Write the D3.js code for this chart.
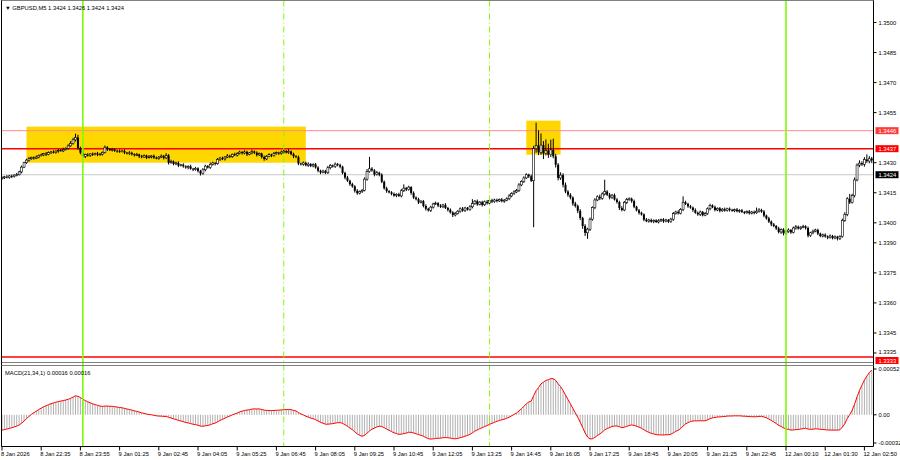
<!DOCTYPE html>
<html><head><meta charset="utf-8">
<script src="https://cdn.jsdelivr.net/npm/d3@7"></script>
<style>
body{margin:0;background:#fff}
svg{display:block}
text{font-family:"Liberation Sans",Arial,sans-serif}
</style>
</head><body><svg id="c" width="900" height="460"></svg>
<script>
// ---------- DATA ----------
const symbol = "GBPUSD,M5";
const headerQuote = ["1.3424", "1.3426", "1.3424", "1.3424"];
const basePrice = 1.3400;           // closes are given in pips above this
const firstOpen = 22.0;
const closePips = [
 22.5,23.0,22.6,23.4,23.1,23.8,24.0,25.4,27.8,30.0,31.3,32.0,32.6,32.2,32.8,33.6,
 33.9,34.5,34.1,35.0,35.4,35.1,35.8,36.2,35.9,36.6,37.2,38.4,39.6,41.4,42.6,37.4,
 35.0,33.2,34.0,33.6,34.4,34.0,34.5,34.1,34.3,35.2,37.6,36.8,36.3,36.6,36.0,35.8,
 35.5,35.9,35.0,34.6,34.9,34.2,33.8,34.1,33.2,32.8,33.5,32.6,32.9,33.4,32.5,32.2,
 32.8,33.3,32.4,33.6,30.0,30.6,29.4,29.9,28.6,29.0,28.2,27.6,28.1,27.0,26.6,27.2,
 25.8,24.6,26.5,28.3,27.6,29.2,29.9,29.5,31.6,32.3,31.9,32.8,33.4,33.0,34.2,33.8,
 34.6,35.3,34.8,35.4,34.2,34.9,35.6,35.0,33.9,34.5,32.8,31.9,33.2,34.0,33.6,34.5,
 35.0,34.6,35.3,35.8,35.1,35.6,34.3,33.2,32.8,29.6,29.2,29.9,28.7,29.3,28.4,29.1,
 27.6,26.0,25.2,25.8,25.0,27.5,28.6,28.1,29.3,28.8,28.0,24.9,22.6,21.0,19.3,18.2,
 16.0,14.8,15.6,16.2,21.8,25.6,27.0,26.2,24.1,25.0,24.0,20.5,17.2,15.8,15.2,14.4,
 13.6,14.2,13.4,16.0,17.3,16.6,17.8,14.9,12.6,11.8,10.2,10.8,8.4,7.0,6.2,7.8,
 9.4,9.8,8.6,8.0,8.9,7.4,6.5,5.2,3.9,4.6,5.8,7.0,6.1,7.4,6.6,8.0,
 9.6,10.8,9.2,10.3,9.0,10.5,9.8,11.2,10.6,11.4,10.9,11.6,10.8,11.3,12.0,13.4,
 14.6,15.4,16.2,18.9,20.6,22.4,24.0,23.2,21.0,37.0,38.5,35.2,38.8,34.6,36.0,34.0,
 36.4,33.2,29.0,22.4,23.8,19.0,15.6,14.0,12.6,9.6,8.4,6.0,2.4,-1.6,-5.0,-3.2,
 1.8,7.6,11.4,13.0,12.2,14.4,15.6,14.0,12.6,13.8,11.6,10.4,7.4,6.4,10.2,11.6,
 12.0,10.8,8.0,6.2,5.0,4.2,1.6,0.8,1.4,0.6,1.2,0.4,1.0,1.6,0.8,1.4,
 0.6,1.8,4.6,5.4,4.8,6.6,10.2,9.4,8.2,7.6,6.4,5.0,4.2,5.4,3.8,4.6,
 7.0,8.6,7.8,6.4,7.2,6.0,6.8,6.2,7.0,6.4,6.0,6.6,5.8,6.2,5.4,5.0,
 5.6,4.8,5.4,5.0,5.8,6.4,5.6,3.6,2.2,0.6,-0.8,-1.6,-2.8,-4.6,-3.4,-5.2,
 -4.4,-3.6,-4.8,-2.6,-2.0,-2.8,-2.2,-1.8,-2.6,-6.4,-5.0,-4.2,-3.6,-5.4,-6.6,-6.0,
 -6.8,-7.4,-6.6,-7.6,-7.0,-7.8,-6.8,1.2,4.2,12.0,10.2,13.6,21.4,28.8,29.8,29.2,31.6,30.8,32.0,31.2
];
const upWick = [
 0.6,0.4,0.8,0.5,0.7,0.4,0.9,0.6,0.8,0.5,0.7,0.9,0.4,0.6,0.8,0.5,
 0.7,0.4,0.9,0.6,0.5,0.8,0.4,0.7,0.6,0.9,0.5,0.8,1.2,1.0,1.9,1.4,
 0.6,1.2,0.5,0.8,0.4,0.7,0.5,0.9,0.6,0.4,1.0,0.7,0.5,0.8,0.6,0.4,
 0.8,0.5,0.7,0.4,0.9,0.6,0.5,0.8,0.4,0.7,0.6,0.5,0.9,0.4,0.7,0.6,
 0.5,0.8,0.6,1.2,0.7,0.9,0.5,0.6,0.8,0.4,0.7,0.5,0.6,0.9,0.4,0.7,
 0.5,0.6,0.8,0.7,0.5,0.9,0.6,0.4,0.8,0.6,0.7,0.5,0.9,0.6,0.4,0.8,
 0.6,0.7,0.5,0.8,0.6,0.4,0.9,0.5,0.7,0.6,0.5,0.8,0.6,0.7,0.5,0.9,
 0.6,0.5,0.8,0.7,0.6,1.2,0.5,0.7,0.6,0.8,0.5,0.7,0.6,0.9,0.5,0.6,
 0.8,0.6,0.5,0.7,0.6,0.9,0.7,0.5,0.8,0.6,0.7,0.5,0.6,0.8,0.5,0.7,
 0.6,0.8,0.5,0.7,0.9,1.2,5.9,0.8,0.6,0.9,0.5,0.7,0.6,0.8,0.5,0.6,
 0.7,0.5,0.8,0.9,1.9,0.6,0.7,0.5,0.8,0.6,0.7,0.5,0.6,0.8,0.5,0.7,
 0.6,0.8,0.5,0.7,0.6,0.9,0.5,0.7,0.6,0.8,0.5,0.7,0.9,0.6,0.5,0.8,
 2.2,0.6,0.8,0.5,0.7,0.6,0.9,0.5,0.8,0.6,0.7,0.5,0.8,0.6,0.7,0.9,
 0.6,0.8,0.7,0.9,0.6,0.8,0.7,0.5,0.9,1.4,11.5,7.7,5.8,2.0,5.6,3.5,
 5.1,5.6,1.2,0.8,1.4,0.9,1.1,0.7,0.8,0.6,0.9,0.7,0.8,0.6,0.9,0.7,
 0.8,0.6,0.9,0.7,1.1,0.8,5.9,0.7,0.9,0.6,0.8,0.7,0.6,0.9,0.7,0.8,
 0.7,0.6,0.8,0.5,0.7,0.6,0.5,0.8,0.6,0.7,0.5,0.6,0.8,0.5,0.7,0.6,
 0.5,0.7,0.8,0.6,0.9,0.7,3.0,0.8,0.6,0.7,0.5,0.8,0.6,0.7,0.5,0.8,
 0.7,0.9,0.6,0.8,0.5,0.7,0.6,0.8,0.5,0.7,0.6,0.5,0.8,0.6,0.7,0.5,
 0.6,0.8,0.5,0.7,1.8,0.9,0.6,0.7,0.5,0.8,0.6,0.7,0.5,0.8,0.6,0.7,
 0.6,0.8,0.5,0.7,0.9,0.6,0.5,0.8,0.6,0.7,0.5,0.8,0.6,0.7,0.5,0.6,
 0.7,0.5,0.8,0.6,0.7,0.5,0.6,0.9,1.1,0.8,2.4,0.9,1.2,0.8,1.4,0.9,1.2,2.6,1.3,0.9
];
const downWick = [
 0.5,0.7,0.4,0.6,0.8,0.5,0.6,0.4,0.7,0.5,0.6,0.8,0.5,0.7,0.4,0.6,
 0.5,0.6,0.8,0.4,0.7,0.5,0.6,0.8,0.4,0.6,0.5,0.7,0.4,0.6,0.8,0.9,
 0.8,0.6,0.9,0.5,0.7,0.6,0.4,0.8,0.5,0.7,0.6,0.9,0.5,0.7,0.6,0.8,
 0.6,0.4,0.7,0.5,0.8,0.6,0.7,0.5,0.9,0.6,0.4,0.8,0.5,0.7,0.6,0.5,
 0.7,0.5,0.8,0.6,0.9,0.5,0.7,0.6,0.8,0.5,0.7,0.6,0.9,0.5,0.8,0.6,
 0.7,1.0,0.6,0.8,0.5,0.7,0.6,0.9,0.5,0.7,0.6,0.8,0.5,0.7,0.6,0.5,
 0.7,0.5,0.8,0.6,0.9,0.5,0.7,0.6,0.8,0.5,0.7,0.9,0.6,0.5,0.8,0.6,
 0.5,0.7,0.6,0.8,0.5,0.7,0.6,0.9,0.5,0.8,0.6,0.7,0.5,0.8,0.6,0.7,
 0.6,0.8,0.9,0.5,0.7,0.6,0.8,0.5,0.7,0.6,0.8,0.7,0.9,0.6,0.8,0.7,
 0.9,0.8,0.6,0.7,0.5,0.8,0.6,0.7,0.9,0.5,0.8,0.7,0.6,0.8,0.5,0.7,
 0.6,0.8,0.5,0.7,0.6,0.8,0.5,0.9,0.7,0.6,0.8,0.5,0.7,0.9,0.6,0.8,
 0.7,0.5,0.8,0.6,0.7,0.5,0.9,0.6,1.0,0.7,0.5,0.8,0.6,0.7,0.5,0.6,
 0.8,0.6,0.7,0.5,0.9,0.6,0.7,0.5,0.8,0.6,0.7,0.5,0.6,0.8,0.5,0.7,
 0.6,0.7,0.5,0.8,0.6,0.7,0.5,0.8,0.6,23.2,2.0,1.4,1.2,2.8,1.0,1.6,
 1.2,1.0,1.4,1.2,1.0,1.3,0.8,1.0,0.9,1.1,0.8,1.2,1.0,1.4,1.6,3.0,
 0.9,0.7,0.8,0.6,0.9,0.7,0.8,0.6,0.9,0.7,0.5,0.8,1.0,0.7,0.6,0.8,
 0.6,0.8,0.7,0.5,0.9,0.6,0.8,0.5,0.7,0.6,0.8,0.5,0.7,0.6,0.8,0.5,
 0.7,0.6,0.8,0.5,0.7,0.6,0.8,0.5,0.7,0.6,0.9,0.5,0.7,0.8,0.6,0.5,
 0.6,0.8,0.5,0.7,0.6,0.8,0.5,0.7,0.6,0.8,0.5,0.7,0.6,0.8,0.5,0.7,
 0.5,0.7,0.6,0.8,0.5,0.7,0.6,0.8,0.6,0.7,0.9,0.6,0.8,0.7,0.9,1.1,
 0.8,0.6,0.7,0.5,0.8,0.6,0.7,0.5,0.8,0.9,0.6,0.7,0.5,0.8,0.6,0.7,
 0.6,0.8,0.5,0.7,0.6,1.0,0.8,0.6,0.7,0.9,0.8,0.6,0.9,0.7,1.0,0.8,1.2,0.9,1.1,1.4
];
const timeLabels = ["8 Jan 2026","8 Jan 22:35","8 Jan 23:55","9 Jan 01:25","9 Jan 02:45","9 Jan 04:05",
 "9 Jan 05:25","9 Jan 06:45","9 Jan 08:05","9 Jan 09:25","9 Jan 10:45","9 Jan 12:05","9 Jan 13:25",
 "9 Jan 14:45","9 Jan 16:05","9 Jan 17:25","9 Jan 18:45","9 Jan 20:05","9 Jan 21:25","9 Jan 22:45",
 "12 Jan 00:10","12 Jan 01:30","12 Jan 02:50"];
const barsPerTimeLabel = 16;
const priceTicks = [1.3500,1.3485,1.3470,1.3455,1.3430,1.3415,1.3400,1.3390,1.3375,1.3360,1.3345,1.3335];
const resistanceUpper = 1.3446;
const resistanceLower = 1.3437;
const bidPrice = 1.3424;
const bottomLevel = 1.3333;
const priceDomain = [1.3333, 1.3500];
const zoneStartBar = [10, 214];
const zoneEndBar = [124, 228];
const zoneTop = [1.3448, 1.3451];
const zoneBottom = [1.3430, 1.3434];
const solidLineBars = [33, 320];
const dashedLineBars = [115, 199];
const macdPeriods = [21, 34, 1];
const macdHeaderValues = ["0.00016", "0.00016"];
const macdTicks = [0.00052, 0.00, -0.00032];
const macdTickLabels = ["0.00052", "0.00", "-0.00032"];
const emaSeeds = [24.0, 25.8];   // fast / slow EMA state before first bar (pips)

// ---------- LAYOUT ----------
const W = 900, H = 460;
const plotL = 1.5, plotR = 873.5;
const mainTop = 0.5, mainBot = 362.5;
const macdTop = 365.5, macdBot = 446.5;
const barStep = 2.45, x0 = 2;
const N = closePips.length;
if (upWick.length !== N || downWick.length !== N) console.error("length mismatch", N, upWick.length, downWick.length);

const svg = d3.select("#c");
const x = d3.scaleLinear().domain([0, N - 1]).range([x0, x0 + (N - 1) * barStep]);
const y = d3.scaleLinear().domain(priceDomain).range([357, 22.5]);
const ym = d3.scaleLinear().domain([macdTicks[2], macdTicks[0]]).range([443, 369]);
const toPrice = p => basePrice + p / 10000;

const bars = closePips.map((c, i) => {
  const o = i === 0 ? firstOpen : closePips[i - 1];
  return { i, o: toPrice(o), c: toPrice(c),
    h: toPrice(Math.max(o, c) + upWick[i]), l: toPrice(Math.min(o, c) - downWick[i]) };
});

// MACD = EMA(fast) - EMA(slow) of closes, signal = SMA(1)
const af = 2 / (macdPeriods[0] + 1), as = 2 / (macdPeriods[1] + 1);
let ef = emaSeeds[0], es = emaSeeds[1];
const macd = closePips.map(c => { ef += af * (c - ef); es += as * (c - es); return (ef - es) / 10000; });

// ---------- DRAW ----------
const clip = svg.append("defs");
clip.append("clipPath").attr("id","cm").append("rect").attr("x",plotL).attr("y",mainTop).attr("width",plotR-plotL).attr("height",mainBot-mainTop);
clip.append("clipPath").attr("id","cd").append("rect").attr("x",plotL).attr("y",macdTop).attr("width",plotR-plotL).attr("height",macdBot-macdTop);

const gm = svg.append("g").attr("clip-path","url(#cm)");
// zones
gm.selectAll("rect.zone").data(zoneStartBar).join("rect").attr("class","zone")
  .attr("x", (d,k) => x(d)).attr("width", (d,k) => x(zoneEndBar[k]) - x(d))
  .attr("y", (d,k) => y(zoneTop[k])).attr("height", (d,k) => y(zoneBottom[k]) - y(zoneTop[k]))
  .attr("fill", "#FFD700");
// horizontal levels
const hline = (p, col, w) => gm.append("line").attr("x1", plotL).attr("x2", plotR)
  .attr("y1", y(p)).attr("y2", y(p)).attr("stroke", col).attr("stroke-width", w);
hline(bidPrice, "#C8C8C8", 1);
hline(resistanceUpper, "#FF8A8A", 1);
hline(resistanceLower, "#FF0000", 1.6);
hline(bottomLevel, "#FF0000", 1.6);

// candles
const cg = gm.append("g");
cg.selectAll("line.w").data(bars).join("line").attr("class","w")
  .attr("x1", d => x(d.i)).attr("x2", d => x(d.i))
  .attr("y1", d => y(d.h)).attr("y2", d => y(d.l))
  .attr("stroke", "#000").attr("stroke-width", 1);
cg.selectAll("rect.b").data(bars).join("rect").attr("class","b")
  .attr("x", d => x(d.i) - 1).attr("width", 2)
  .attr("y", d => y(Math.max(d.o, d.c)))
  .attr("height", d => Math.max(0.8, Math.abs(y(d.o) - y(d.c))))
  .attr("fill", d => d.c >= d.o ? "#fff" : "#000")
  .attr("stroke", "#000").attr("stroke-width", d => d.c >= d.o ? 0.6 : 0);

// MACD panel
const gd = svg.append("g").attr("clip-path","url(#cd)");
gd.selectAll("line.h").data(macd).join("line").attr("class","h")
  .attr("x1", (d,i) => x(i)).attr("x2", (d,i) => x(i))
  .attr("y1", ym(0)).attr("y2", d => ym(d))
  .attr("stroke", "#B0B0B0").attr("stroke-width", 1);
gd.append("path").datum(macd)
  .attr("d", d3.line().x((d,i) => x(i)).y(d => ym(d)))
  .attr("fill","none").attr("stroke","#FF0000").attr("stroke-width",1);

// vertical session lines through both panels
svg.selectAll("line.vs").data(solidLineBars).join("line").attr("class","vs")
  .attr("x1", d => x(d)).attr("x2", d => x(d)).attr("y1", mainTop).attr("y2", macdBot)
  .attr("stroke", "#7CFC00").attr("stroke-width", 1.6);
svg.selectAll("line.vd").data(dashedLineBars).join("line").attr("class","vd")
  .attr("x1", d => x(d)).attr("x2", d => x(d)).attr("y1", mainTop).attr("y2", macdBot)
  .attr("stroke", "#7CFC00").attr("stroke-width", 1).attr("stroke-dasharray", "6,3,1,3");

// frames
const frame = svg.append("g").attr("fill","none").attr("stroke","#000").attr("stroke-width",1);
frame.append("rect").attr("x",plotL).attr("y",mainTop).attr("width",plotR-plotL).attr("height",mainBot-mainTop).attr("stroke","#808080");
frame.append("line").attr("x1",plotL).attr("x2",plotL).attr("y1",mainTop).attr("y2",macdBot);
frame.append("line").attr("x1",plotR).attr("x2",plotR).attr("y1",mainTop).attr("y2",macdBot);
frame.append("line").attr("x1",plotL).attr("x2",plotR).attr("y1",macdTop).attr("y2",macdTop).attr("stroke","#808080");
frame.append("line").attr("x1",plotL).attr("x2",plotR).attr("y1",macdBot).attr("y2",macdBot);

// price axis
const fs = 5.8;
const ax = svg.append("g").attr("font-size", fs);
ax.selectAll("line.t").data(priceTicks).join("line").attr("class","t")
  .attr("x1", plotR).attr("x2", plotR + 3).attr("y1", d => y(d)).attr("y2", d => y(d)).attr("stroke","#000");
ax.selectAll("text.t").data(priceTicks).join("text").attr("class","t")
  .attr("x", plotR + 5).attr("y", d => y(d) - (d === priceTicks[priceTicks.length - 1] ? 1 : 0))
  .attr("dy","0.35em").text(d => d.toFixed(4));
const tagH = 7;
const tag = (p, col, cy) => {
  const g = ax.append("g");
  g.append("rect").attr("x", plotR + 2).attr("y", cy - tagH / 2).attr("width", 23).attr("height", tagH).attr("fill", col);
  g.append("text").attr("x", plotR + 5).attr("y", cy).attr("dy","0.35em").attr("fill","#fff").text(p.toFixed(4));
};
tag(resistanceUpper, "#FF3B3B", y(resistanceUpper));
tag(resistanceLower, "#FF0000", y(resistanceLower));
tag(bidPrice, "#000", y(bidPrice));
tag(bottomLevel, "#FF0000", mainBot - 2);   // bottom tag sits on the panel edge

// MACD axis
ax.selectAll("line.m").data(macdTicks).join("line").attr("class","m")
  .attr("x1", plotR).attr("x2", plotR + 3).attr("y1", d => ym(d)).attr("y2", d => ym(d)).attr("stroke","#000");
ax.selectAll("text.m").data(macdTicks).join("text").attr("class","m")
  .attr("x", plotR + 5).attr("y", d => ym(d)).attr("dy","0.35em").text((d,k) => macdTickLabels[k]);

// time axis
const tg = svg.append("g").attr("font-size", fs);
tg.selectAll("line").data(timeLabels).join("line")
  .attr("x1", (d,k) => x(k * barsPerTimeLabel)).attr("x2", (d,k) => x(k * barsPerTimeLabel))
  .attr("y1", macdBot).attr("y2", macdBot + 4).attr("stroke","#000");
tg.selectAll("text").data(timeLabels).join("text")
  .attr("x", (d,k) => x(k * barsPerTimeLabel) - 1).attr("y", 456).text(d => d);

// headers
svg.append("text").attr("x", 5).attr("y", 10).attr("font-size", fs)
  .text("\u25BC " + symbol + "  " + headerQuote.join(" "));
svg.append("text").attr("x", 5).attr("y", 375).attr("font-size", fs)
  .text("MACD(" + macdPeriods.join(",") + ") " + macdHeaderValues.join(" "));
</script>
</body></html>
